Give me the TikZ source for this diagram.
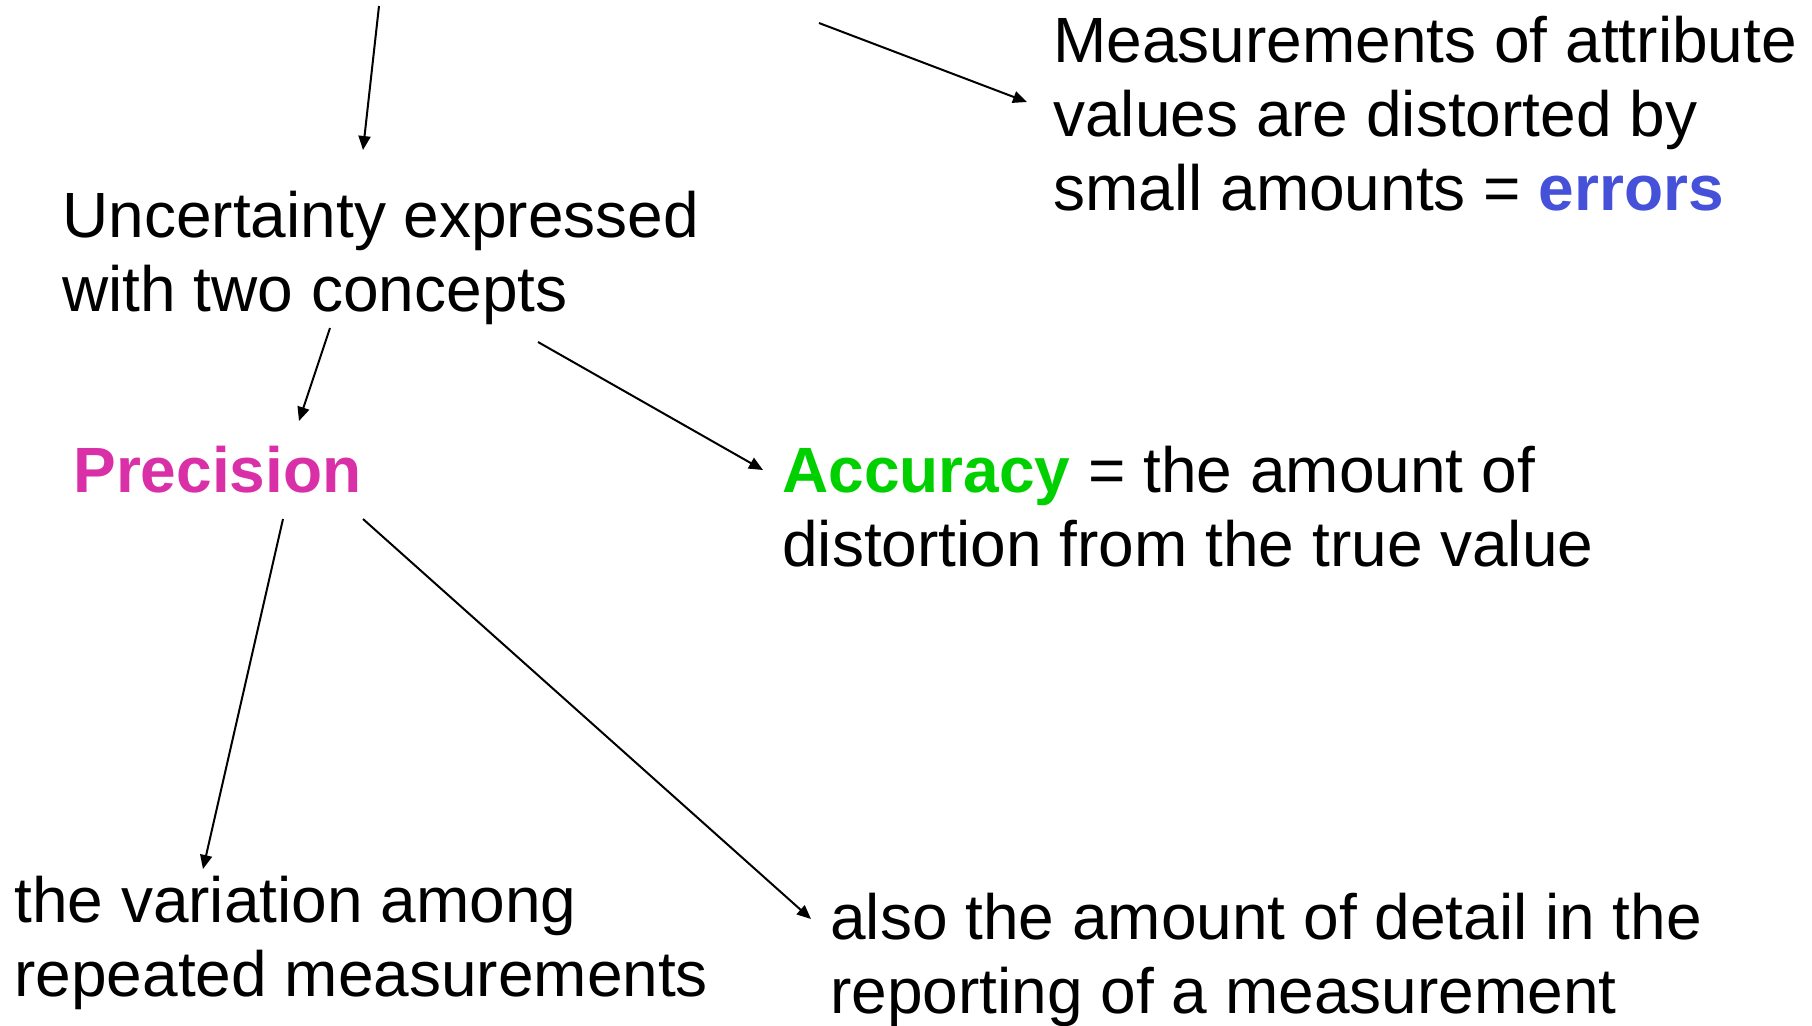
\documentclass[tikz,border=0pt]{standalone}
\usepackage{fontspec}
\setmainfont{Liberation Sans}
\usetikzlibrary{arrows.meta}
\definecolor{errblue}{RGB}{68,81,216}
\definecolor{precmag}{RGB}{217,48,168}
\definecolor{accgreen}{RGB}{0,208,0}
\tikzset{
  txt/.style={anchor=base west, inner sep=0pt, align=left, font=\fontsize{32pt}{37pt}\selectfont},
  conn/.style={line width=1pt, -{Triangle[length=7pt,width=6pt]}}
}
\begin{document}
\begin{tikzpicture}[x=0.5pt,y=-0.5pt]
\useasboundingbox (0,0) rectangle (1812,1025);
\node[txt] (meas) at (1053,210) {Measurements of attribute\\values are distorted by\\small amounts = \textbf{\color{errblue}errors}};
\node[txt] (unc) at (62,311) {Uncertainty expressed\\with two concepts};
\node[txt] (prec) at (73,492) {\textbf{\color{precmag}Precision}};
\node[txt] (acc) at (782,566) {\textbf{\color{accgreen}Accuracy} = the amount of\\distortion from the true value};
\node[txt] (var) at (14,996) {the variation among\\repeated measurements};
\node[txt] (det) at (830,1013) {also the amount of detail in the\\reporting of a measurement};
\coordinate (a1s) at (379,6);
\coordinate (a1e) at (363,150);
\coordinate (a2s) at (819,23);
\coordinate (a2e) at (1027,102);
\coordinate (a3s) at (330,328);
\coordinate (a3e) at (299,421);
\coordinate (a4s) at (538,342);
\coordinate (a4e) at (763,470);
\coordinate (a5s) at (283,519);
\coordinate (a5e) at (203,869);
\coordinate (a6s) at (363,519);
\coordinate (a6e) at (811,919);
\draw[conn] (a1s) -- (a1e);
\draw[conn] (a2s) -- (a2e);
\draw[conn] (a3s) -- (a3e);
\draw[conn] (a4s) -- (a4e);
\draw[conn] (a5s) -- (a5e);
\draw[conn] (a6s) -- (a6e);
\end{tikzpicture}
\end{document}
